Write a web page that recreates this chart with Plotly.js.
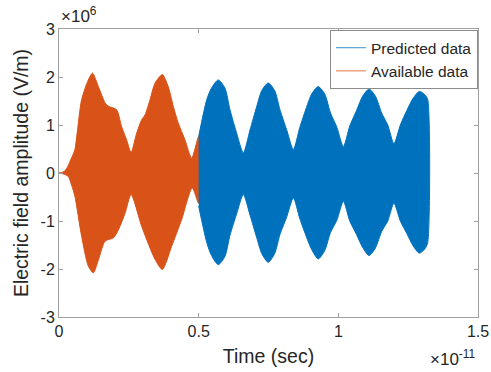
<!DOCTYPE html>
<html>
<head>
<meta charset="utf-8">
<script src="https://cdn.plot.ly/plotly-3.0.1.min.js"></script>
<style>
  html, body { margin: 0; padding: 0; background: #fff; }
  #chart { width: 491px; height: 372px; }
</style>
</head>
<body>
<div id="chart"></div>
<script>
// Time axis in units of 1e-11 s, field amplitude in units of 1e6 V/m.
const TIME_SCALE = 1e-11;
const AMP_SCALE = 1e6;

// Envelope of the available (measured) field, upper and lower edges
const availUpperTime = [0, 0.01, 0.02, 0.03, 0.04, 0.05, 0.057, 0.081, 0.105, 0.12, 0.141, 0.165, 0.177, 0.206, 0.224, 0.242, 0.258, 0.278, 0.296, 0.308, 0.326, 0.344, 0.370, 0.391, 0.409, 0.427, 0.451, 0.475, 0.5];
const availUpper     = [0, 0.01, 0.04, 0.12, 0.25, 0.38, 0.49, 1.53, 1.94, 2.08, 1.80, 1.46, 1.39, 1.32, 0.97, 0.69, 0.43, 0.83, 1.11, 1.21, 1.53, 1.875, 2.05, 1.80, 1.39, 1.04, 0.69, 0.31, 0.76];
const availLowerTime = [0, 0.01, 0.02, 0.033, 0.045, 0.057, 0.081, 0.105, 0.123, 0.141, 0.165, 0.195, 0.213, 0.237, 0.258, 0.296, 0.344, 0.370, 0.403, 0.439, 0.477, 0.5];
const availLower     = [0, -0.01, -0.03, -0.07, -0.25, -0.49, -1.32, -1.94, -2.08, -1.81, -1.42, -1.35, -1.18, -0.83, -0.45, -1.11, -1.80, -2.01, -1.53, -0.97, -0.31, -0.63];

// Envelope of the predicted field
const predTime  = [0.5, 0.529, 0.546, 0.570, 0.594, 0.612, 0.636, 0.660, 0.684, 0.708, 0.726, 0.749, 0.772, 0.791, 0.815, 0.839, 0.862, 0.885, 0.905, 0.928, 0.951, 0.972, 0.995, 1.018, 1.041, 1.065, 1.087, 1.110, 1.133, 1.155, 1.177, 1.199, 1.222, 1.245, 1.268, 1.290, 1.310, 1.320];
const predUpper = [0.76, 1.53, 1.77, 1.94, 1.77, 1.32, 0.83, 0.42, 0.90, 1.39, 1.72, 1.875, 1.72, 1.32, 0.90, 0.49, 0.95, 1.35, 1.65, 1.80, 1.65, 1.25, 0.95, 0.55, 0.98, 1.30, 1.60, 1.75, 1.60, 1.25, 1.00, 0.61, 1.00, 1.30, 1.56, 1.70, 1.63, 1.53];
const predLower = [-0.69, -1.45, -1.72, -1.91, -1.74, -1.30, -0.85, -0.45, -0.88, -1.35, -1.68, -1.86, -1.68, -1.28, -0.92, -0.52, -0.95, -1.32, -1.60, -1.79, -1.62, -1.24, -0.98, -0.59, -1.00, -1.28, -1.55, -1.72, -1.56, -1.22, -1.00, -0.63, -1.00, -1.26, -1.52, -1.67, -1.58, -1.45];

// Axis ticks
const xTickVals = [0, 0.5, 1, 1.5];
const xTickText = ['0', '0.5', '1', '1.5'];
const yTickVals = [-3, -2, -1, 0, 1, 2, 3];
const yTickText = ['-3', '-2', '-1', '0', '1', '2', '3'];

const seriesNames = ['Predicted data', 'Available data'];
const BLUE = '#0072BD';
const ORANGE = '#D95319';

// Closed outline: upper edge left-to-right, lower edge right-to-left
function band(tu, yu, tl, yl) {
  const x = tu.concat(tl.slice().reverse()).map(v => v * TIME_SCALE);
  const y = yu.concat(yl.slice().reverse()).map(v => v * AMP_SCALE);
  return { x, y };
}

const availBand = band(availUpperTime, availUpper, availLowerTime, availLower);
const predBand = band(predTime, predUpper, predTime, predLower);

const FONT = 'Liberation Sans, Arial, Helvetica, sans-serif';
const TXT = '#262626';
const AX = '#a0a0a0';

const traces = [
  { type: 'scatter', mode: 'lines', x: availBand.x, y: availBand.y, fill: 'toself',
    fillcolor: ORANGE, line: { color: ORANGE, width: 1, shape: 'spline', smoothing: 0.7 },
    showlegend: false, hoverinfo: 'skip' },
  { type: 'scatter', mode: 'lines', x: predBand.x, y: predBand.y, fill: 'toself',
    fillcolor: BLUE, line: { color: BLUE, width: 1, shape: 'spline', smoothing: 0.7 },
    showlegend: false, hoverinfo: 'skip' },
  // legend entries drawn as thin lines
  { type: 'scatter', mode: 'lines', x: [null], y: [null], name: seriesNames[0],
    line: { color: BLUE, width: 0.8 } },
  { type: 'scatter', mode: 'lines', x: [null], y: [null], name: seriesNames[1],
    line: { color: ORANGE, width: 0.8 } }
];

const axisCommon = {
  showgrid: false, zeroline: false, showline: true, mirror: 'ticks',
  linecolor: AX, linewidth: 1, ticks: 'inside', ticklen: 4, tickcolor: AX, tickwidth: 1,
  tickfont: { family: FONT, size: 16, color: TXT }
};

const layout = {
  width: 491, height: 372,
  margin: { l: 59, r: 13, t: 29, b: 55 },
  paper_bgcolor: '#fff', plot_bgcolor: '#fff',
  font: { family: FONT, color: TXT },
  xaxis: Object.assign({}, axisCommon, {
    range: [0, 1.5 * TIME_SCALE],
    tickmode: 'array', tickvals: xTickVals.map(v => v * TIME_SCALE), ticktext: xTickText,
    title: { text: 'Time (sec)', font: { family: FONT, size: 19.5, color: TXT }, standoff: 10 }
  }),
  yaxis: Object.assign({}, axisCommon, {
    range: [-3 * AMP_SCALE, 3 * AMP_SCALE],
    tickmode: 'array', tickvals: yTickVals.map(v => v * AMP_SCALE), ticktext: yTickText,
    title: { text: 'Electric field amplitude (V/m)', font: { family: FONT, size: 19.5, color: TXT }, standoff: 6 }
  }),
  legend: {
    x: 1, xanchor: 'right', y: 0.996, yanchor: 'top',
    bgcolor: '#fff', bordercolor: '#8c8c8c', borderwidth: 1,
    font: { family: FONT, size: 15.5, color: TXT },
    tracegroupgap: 0, itemwidth: 30
  },
  annotations: [
    { xref: 'paper', yref: 'paper', x: 0, y: 1, xanchor: 'left', yanchor: 'bottom',
      yshift: 1, showarrow: false, text: '×10<sup>6</sup>',
      font: { family: FONT, size: 17, color: TXT } },
    { xref: 'paper', yref: 'paper', x: 1, y: 0, xanchor: 'right', yanchor: 'top',
      yshift: -28, showarrow: false, text: '×10<sup>-11</sup>',
      font: { family: FONT, size: 17, color: TXT } }
  ]
};

Plotly.newPlot('chart', traces, layout, { staticPlot: true, displayModeBar: false });
</script>
</body>
</html>
